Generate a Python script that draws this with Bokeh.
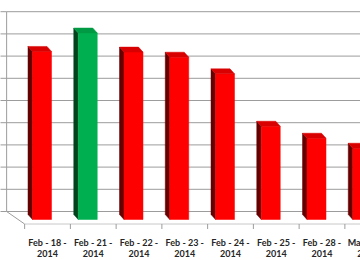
from bokeh.plotting import figure
from bokeh.models import Range1d
from bokeh.core.properties import value
from bokeh.embed import file_html
from bokeh.resources import INLINE

# Daily figures, one bar per date
dates = ["Feb - 18 -", "Feb - 21 -", "Feb - 22 -", "Feb - 23 -",
         "Feb - 24 -", "Feb - 25 -", "Feb - 28 -", "Mar - 01 -"]
years = ["2014", "2014", "2014", "2014", "2014", "2014", "2014", "2014"]
values = [7.57, 8.40, 7.54, 7.31, 6.56, 4.20, 3.66, 3.21]
highlight = [False, True, False, False, False, False, False, False]
gridlines = [0, 1, 2, 3, 4, 5, 6, 7, 8, 9]

W, H = 360, 260
CAT_PX = 45.75   # pixels per category slot
UNIT_PX = 22.2   # pixels per value unit
FIRST_PX = 47    # pixel centre of the first category
BASE_PX = 211    # pixel row of the value 0 line on the back wall


def dx(px):
    return px / CAT_PX


def dy(px):
    return px / UNIT_PX


x_start = -FIRST_PX / CAT_PX
x_end = x_start + W / CAT_PX
y_end = BASE_PX / UNIT_PX
y_start = y_end - H / UNIT_PX

p = figure(width=W, height=H, output_backend="svg", toolbar_location=None,
           x_range=Range1d(x_start, x_end), y_range=Range1d(y_start, y_end),
           x_axis_type=None, y_axis_type=None, min_border=0,
           background_fill_color="white", border_fill_color="white")
p.outline_line_color = None
p.grid.visible = False

# floor / wall geometry (oblique projection)
depth_x, depth_y = dx(18), dy(12.5)
front_left = -0.5
wall_left = front_left - depth_x
floor_front = -depth_y
grid_col = "#9c9c9c"

# back wall gridlines, left wall edge and value ticks
p.segment(x0=[wall_left] * len(gridlines), x1=[x_end] * len(gridlines),
          y0=gridlines, y1=gridlines, line_color=grid_col, line_width=1)
p.segment(x0=[wall_left - dx(7)] * len(gridlines), x1=[wall_left] * len(gridlines),
          y0=gridlines, y1=gridlines, line_color=grid_col, line_width=1)
p.segment(x0=[wall_left], x1=[wall_left], y0=[0], y1=[gridlines[-1]],
          line_color=grid_col, line_width=1)

# floor edges
p.segment(x0=[wall_left], y0=[0], x1=[front_left], y1=[floor_front],
          line_color=grid_col, line_width=1)
p.segment(x0=[front_left], y0=[floor_front], x1=[x_end], y1=[floor_front],
          line_color="#c8c8c8", line_width=1)

# category ticks along the front floor edge
n = len(values)
tick_x = [i - 0.5 for i in range(n + 1)]
p.segment(x0=tick_x, x1=tick_x, y0=[floor_front] * len(tick_x),
          y1=[floor_front - dy(5)] * len(tick_x), line_color=grid_col, line_width=1)

# 3-D bars: dark left side, bright front, lit top
bar_w = dx(19)
off_x, off_y = dx(4.5), dy(5)
base_front = -dy(8)
base_back = base_front + off_y

front_cols = ["#00b050" if h else "#ff0000" for h in highlight]
side_cols = ["#00431d" if h else "#660000" for h in highlight]
top_cols = ["#009a44" if h else "#d80000" for h in highlight]

fl = [i - dx(15) for i in range(n)]
fr = [l + bar_w for l in fl]
front_top = [base_front + v for v in values]
back_top = [base_back + v for v in values]
bl = [l - off_x for l in fl]

side_xs = [[bl[i], bl[i], fl[i], fl[i]] for i in range(n)]
side_ys = [[base_back, back_top[i], front_top[i], base_front] for i in range(n)]
top_xs = [[bl[i], bl[i] + bar_w, fr[i], fl[i]] for i in range(n)]
top_ys = [[back_top[i], back_top[i], front_top[i], front_top[i]] for i in range(n)]

p.patches(xs=side_xs, ys=side_ys, fill_color=side_cols, line_color=side_cols, line_width=0.5)
p.quad(left=fl, right=fr, bottom=[base_front] * n, top=front_top,
       fill_color=front_cols, line_color=front_cols, line_width=0.5)
p.patches(xs=top_xs, ys=top_ys, fill_color=top_cols, line_color=top_cols, line_width=0.5)

# two-line category labels
label_kw = dict(text_font=value("Lato"), text_font_style="bold", text_font_size="9px",
                text_align="center", text_baseline="alphabetic", text_color="#262626")
p.text(x=list(range(n)), y=[-dy(31)] * n, text=dates, **label_kw)
p.text(x=list(range(n)), y=[-dy(42)] * n, text=years, **label_kw)

open("out.html", "w").write(file_html(p, INLINE))
